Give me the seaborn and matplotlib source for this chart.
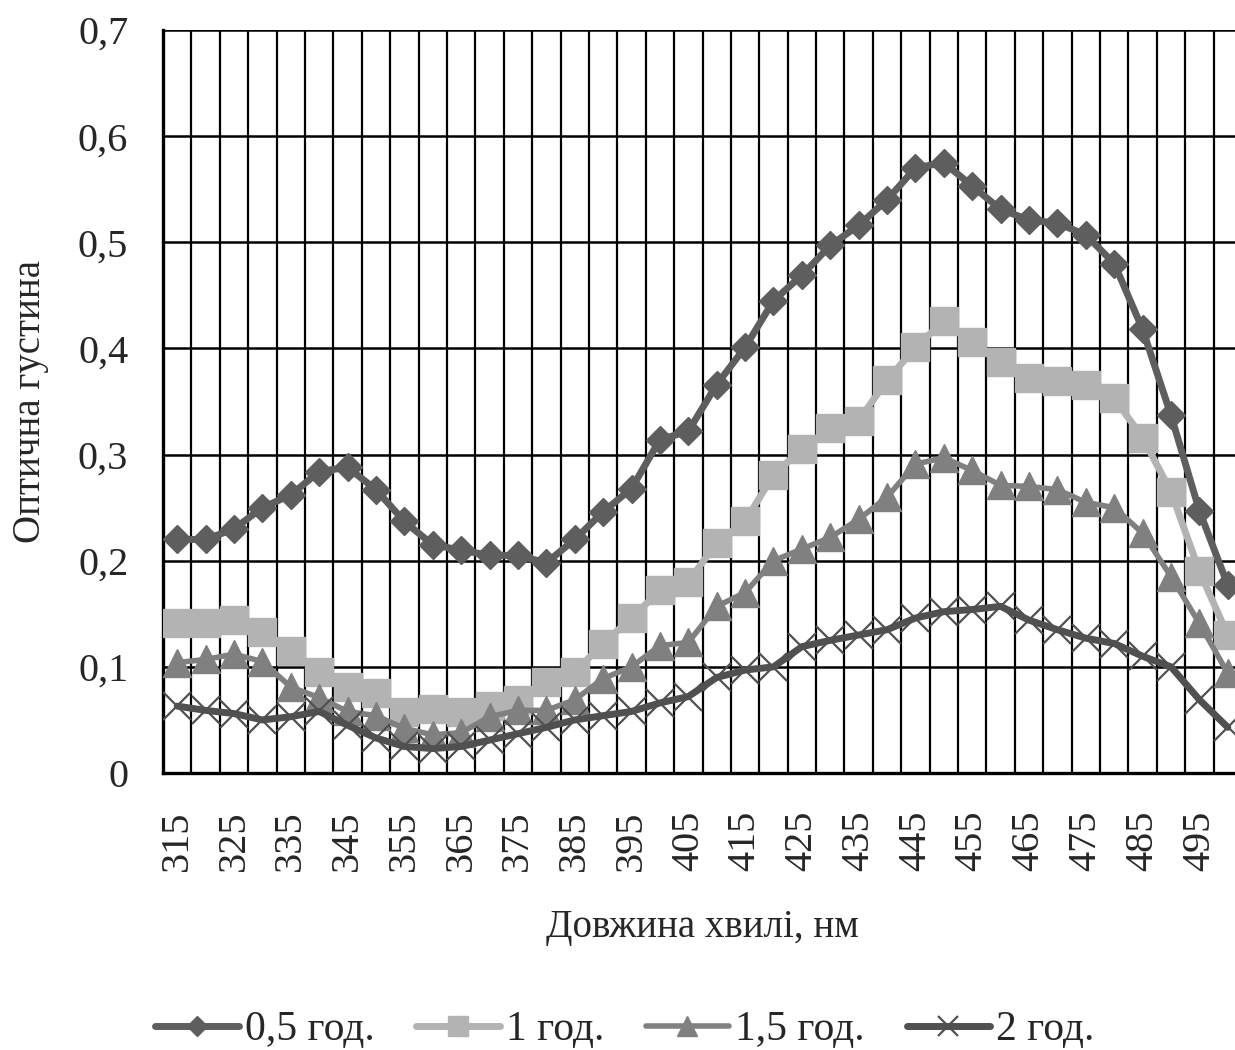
import matplotlib
matplotlib.use("Agg")
import matplotlib.pyplot as plt
import matplotlib.ticker as mticker
from matplotlib.lines import Line2D
import seaborn as sns

# wavelength categories, nm
wavelength = [315, 320, 325, 330, 335, 340, 345, 350, 355, 360,
              365, 370, 375, 380, 385, 390, 395, 400, 405, 410,
              415, 420, 425, 430, 435, 440, 445, 450, 455, 460,
              465, 470, 475, 480, 485, 490, 495, 500]

x_tick_labels = ["315", "325", "335", "345", "355", "365", "375", "385", "395", "405",
                 "415", "425", "435", "445", "455", "465", "475", "485", "495"]
y_tick_values = [0.0, 0.1, 0.2, 0.3, 0.4, 0.5, 0.6, 0.7]
y_tick_labels = ["0", "0,1", "0,2", "0,3", "0,4", "0,5", "0,6", "0,7"]

series_names = ["0,5 год.", "1 год.", "1,5 год.", "2 год."]

od_05h = [0.220, 0.220, 0.230, 0.250, 0.262, 0.284, 0.288, 0.267, 0.237, 0.215,
          0.210, 0.205, 0.205, 0.198, 0.220, 0.246, 0.268, 0.314, 0.322, 0.366,
          0.401, 0.445, 0.469, 0.497, 0.516, 0.540, 0.570, 0.575, 0.553, 0.531,
          0.521, 0.518, 0.507, 0.480, 0.418, 0.337, 0.247, 0.177]

od_1h = [0.141, 0.141, 0.144, 0.133, 0.115, 0.095, 0.081, 0.075, 0.057, 0.060,
         0.057, 0.063, 0.069, 0.086, 0.095, 0.122, 0.146, 0.172, 0.180, 0.217,
         0.237, 0.281, 0.305, 0.325, 0.332, 0.370, 0.401, 0.426, 0.406, 0.387,
         0.372, 0.369, 0.366, 0.353, 0.316, 0.265, 0.190, 0.130]

od_15h = [0.104, 0.107, 0.112, 0.105, 0.081, 0.071, 0.058, 0.054, 0.042, 0.036,
          0.038, 0.053, 0.059, 0.059, 0.069, 0.089, 0.100, 0.120, 0.123, 0.157,
          0.170, 0.200, 0.211, 0.222, 0.239, 0.260, 0.291, 0.297, 0.285, 0.271,
          0.270, 0.267, 0.255, 0.250, 0.226, 0.185, 0.141, 0.094]

od_2h = [0.063, 0.059, 0.056, 0.050, 0.053, 0.058, 0.045, 0.033, 0.025, 0.023,
         0.025, 0.031, 0.037, 0.043, 0.050, 0.054, 0.058, 0.066, 0.072, 0.090,
         0.097, 0.100, 0.119, 0.125, 0.130, 0.135, 0.146, 0.152, 0.154, 0.157,
         0.144, 0.135, 0.127, 0.122, 0.110, 0.100, 0.069, 0.043]

sns.set_style("white")
plt.rcParams["font.family"] = ["Liberation Serif", "DejaVu Serif"]

fig = plt.figure(figsize=(12.35, 10.5), dpi=100)
ax = fig.add_axes([163 / 1235, 277 / 1050, 1079 / 1235, 743 / 1050])

styles = [
    dict(color="#5e5e5e", marker="D", markersize=14, linewidth=5, mew=1),
    dict(color="#b3b3b3", marker="s", markersize=20, linewidth=5, mew=1),
    dict(color="#808080", marker="^", markersize=20, linewidth=4, mew=1),
    dict(color="#505050", marker="x", markersize=20, linewidth=5, mew=1.6),
]
data = [od_05h, od_1h, od_15h, od_2h]

handles = []
for name, values, st in zip(series_names, data, styles):
    sns.lineplot(x=wavelength, y=values, ax=ax, color=st["color"],
                 marker=st["marker"], markersize=st["markersize"],
                 markeredgecolor=st["color"], markeredgewidth=st["mew"],
                 linewidth=st["linewidth"], errorbar=None, zorder=3)
    handles.append(Line2D([], [], color=st["color"], marker=st["marker"],
                          markersize=st["markersize"] * 0.75,
                          markeredgecolor=st["color"], markeredgewidth=st["mew"],
                          linewidth=st["linewidth"], solid_capstyle="round"))

if ax.get_legend() is not None:
    ax.get_legend().remove()

ax.set_xlim(312.5, 502.5)
ax.set_ylim(0, 0.7)

# category labels every second point, boundaries between categories as minor ticks
ax.set_xticks([int(t) for t in x_tick_labels])
ax.set_xticklabels(x_tick_labels, rotation=90, fontsize=29)
ax.xaxis.set_minor_locator(mticker.FixedLocator([w - 2.5 for w in wavelength] + [502.5]))
ax.tick_params(axis="x", which="major", length=0, pad=27)
ax.tick_params(axis="x", which="minor", length=9, width=1.6, direction="out", color="black")

ax.set_yticks(y_tick_values)
ax.set_yticklabels(y_tick_labels, fontsize=29)
ax.tick_params(axis="y", which="major", length=9, width=1.8, direction="out", pad=16, color="black")

ax.grid(True, axis="x", which="minor", color="black", linewidth=1.6)
ax.grid(True, axis="y", which="major", color="black", linewidth=1.8)
ax.set_axisbelow(True)

for side in ["top", "right"]:
    ax.spines[side].set_visible(False)
for side in ["left", "bottom"]:
    ax.spines[side].set_color("black")
    ax.spines[side].set_linewidth(2.4)

ax.set_xlabel("Довжина хвилі, нм", fontsize=28, labelpad=27)
ax.set_ylabel("Оптична густина", fontsize=28, labelpad=21)

fig.legend(handles, series_names, loc="center", bbox_to_anchor=(0.506, 0.019),
           bbox_transform=fig.transFigure, ncol=4, frameon=False, fontsize=30,
           handlelength=2.0, handletextpad=0.15, columnspacing=1.0)

fig.savefig("out.png", dpi=100)
